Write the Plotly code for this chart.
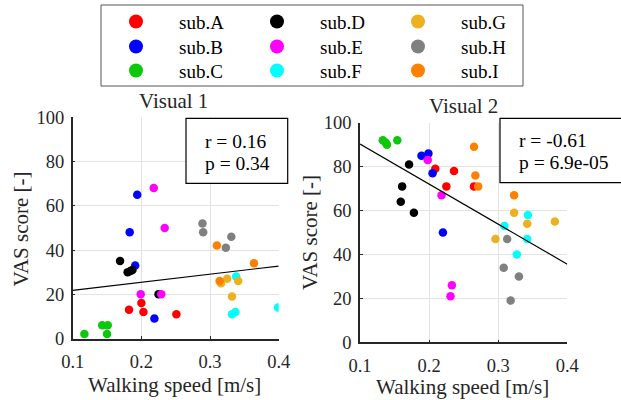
import numpy as np
import plotly.graph_objects as go

W, H = 621, 400

subjects = ["sub.A", "sub.B", "sub.C", "sub.D", "sub.E", "sub.F", "sub.G", "sub.H", "sub.I"]
colors = ["#ff0000", "#0000ff", "#0bc80b", "#000000", "#ff00ff", "#00ffff", "#edb120", "#808080", "#ff8000"]

# Visual 1: walking speed [m/s] and VAS score per subject
speed_v1 = [
    [0.182, 0.200, 0.203, 0.251],
    [0.194, 0.183, 0.191, 0.219],
    [0.117, 0.143, 0.151, 0.150],
    [0.169, 0.180, 0.184, 0.187, 0.225],
    [0.218, 0.234, 0.199, 0.229],
    [0.338, 0.399, 0.332, 0.337],
    [0.316, 0.325, 0.341, 0.332],
    [0.289, 0.290, 0.323, 0.331],
    [0.310, 0.364, 0.314],
]
vas_v1 = [
    [13, 16, 12, 11],
    [65, 48, 33, 9],
    [2, 6, 6, 2],
    [35, 30, 30.5, 31, 20],
    [68, 50, 20, 20],
    [28, 14, 11, 12],
    [25, 27, 26, 19],
    [52, 48, 41, 46],
    [42, 34, 26],
]

# Visual 2
speed_v2 = [
    [0.209, 0.236, 0.225, 0.265],
    [0.189, 0.199, 0.205, 0.220],
    [0.133, 0.137, 0.139, 0.154],
    [0.171, 0.161, 0.159, 0.178],
    [0.198, 0.218, 0.233, 0.231],
    [0.309, 0.343, 0.342, 0.327],
    [0.323, 0.342, 0.382, 0.296],
    [0.313, 0.308, 0.330, 0.318],
    [0.265, 0.267, 0.271, 0.323],
]
vas_v2 = [
    [79, 78, 71, 71],
    [85, 86, 77, 50],
    [92, 91, 90, 92],
    [81, 71, 64, 59],
    [83, 67, 26, 21],
    [53, 58, 47, 40],
    [59, 54, 55, 47],
    [47, 34, 30, 19],
    [89, 76, 71, 67],
]

panel_titles = ["Visual 1", "Visual 2"]
stats_r = ["r = 0.16", "r = -0.61"]
stats_p = ["p = 0.34", "p = 6.9e-05"]
x_ticks = [0.1, 0.2, 0.3, 0.4]
y_ticks = [0, 20, 40, 60, 80, 100]
x_range = [0.1, 0.4]
y_range = [0, 100]

FONT = "Liberation Serif, 'Times New Roman', Times, serif"
TXT = "#262626"

def px(x):
    return x / W

def py(y):
    return 1 - y / H

fig = go.Figure()

panels = [(speed_v1, vas_v1, "x", "y"), (speed_v2, vas_v2, "x2", "y2")]
for sp, vs, xa, ya in panels:
    for i, name in enumerate(subjects):
        fig.add_trace(go.Scatter(
            x=sp[i], y=vs[i], mode="markers", xaxis=xa, yaxis=ya,
            marker=dict(color=colors[i], size=8.5, line=dict(width=0)),
            showlegend=False, name=name, hoverinfo="skip",
        ))
    allx = np.concatenate([np.asarray(a, float) for a in sp])
    ally = np.concatenate([np.asarray(a, float) for a in vs])
    k, b = np.polyfit(allx, ally, 1)
    fx = np.array(x_range)
    fig.add_trace(go.Scatter(
        x=fx, y=k * fx + b, mode="lines", xaxis=xa, yaxis=ya,
        line=dict(color="black", width=1.2), showlegend=False, hoverinfo="skip",
    ))

# legend: 3 columns x 3 rows, one small legend per entry
col_sym_x = [144, 285, 426]
row_y = [21.7, 46.7, 70.7]
leg_common = dict(
    orientation="v", xanchor="left", yanchor="middle", itemwidth=76,
    font=dict(family=FONT, size=19, color="black"),
    bgcolor="rgba(0,0,0,0)", borderwidth=0, tracegroupgap=0, itemclick=False, itemdoubleclick=False,
)
legend_layout = {}
for i, name in enumerate(subjects):
    lname = "legend" if i == 0 else f"legend{i + 1}"
    col, row = i // 3, i % 3
    legend_layout[lname] = dict(x=px(col_sym_x[col] - 51), y=py(row_y[row]), **leg_common)
    fig.add_trace(go.Scatter(
        x=[None], y=[None], mode="markers", name=name,
        marker=dict(color=colors[i], size=14, line=dict(width=0)),
        legend=lname, showlegend=True,
    ))

axis_common = dict(
    showline=True, linecolor=TXT, linewidth=1.5, mirror=False, automargin=False,
    ticks="inside", ticklen=3, tickwidth=1, tickcolor=TXT,
    showgrid=True, gridcolor="#e3e3e3", gridwidth=1, zeroline=False,
    tickfont=dict(family=FONT, size=18.5, color=TXT),
)

fig.update_layout(
    template="none",
    width=W, height=H, margin=dict(l=0, r=0, t=0, b=0, pad=0, autoexpand=False),
    paper_bgcolor="white", plot_bgcolor="white",
    font=dict(family=FONT),
    xaxis=dict(domain=[px(72.7), px(278.7)], range=x_range, tickvals=x_ticks,
               ticktext=[f"{v:.1f}" for v in x_ticks], anchor="y", ticklabelstandoff=6, **axis_common),
    yaxis=dict(domain=[py(338.5), py(117.3)], range=y_range, tickvals=y_ticks, anchor="x",
               ticklabelstandoff=3, **axis_common),
    xaxis2=dict(domain=[px(360), px(567.3)], range=x_range, tickvals=x_ticks,
                ticktext=[f"{v:.1f}" for v in x_ticks], anchor="y2", ticklabelstandoff=6, **axis_common),
    yaxis2=dict(domain=[py(342.3), py(122.7)], range=y_range, tickvals=y_ticks, anchor="x2",
                ticklabelstandoff=3, **axis_common),
    showlegend=True,
    **legend_layout,
)

shapes = [
    dict(type="rect", xref="paper", yref="paper", x0=px(101), x1=px(523), y0=py(86), y1=py(5),
         line=dict(color="#555555", width=1), fillcolor="rgba(0,0,0,0)", layer="above"),
    dict(type="rect", xref="paper", yref="paper", x0=px(186), x1=px(287.7), y0=py(183.3), y1=py(118.3),
         line=dict(color="black", width=1.2), fillcolor="white", layer="above"),
    dict(type="rect", xref="paper", yref="paper", x0=px(500), x1=px(630), y0=py(182.7), y1=py(118.3),
         line=dict(color="black", width=1.2), fillcolor="white", layer="above"),
]
fig.update_layout(shapes=shapes)

ann = []
def add_text(text, x, y, size, xanchor="center", angle=0, color=TXT):
    ann.append(dict(text=text, x=px(x), y=py(y), xref="paper", yref="paper", showarrow=False,
                    xanchor=xanchor, yanchor="middle", textangle=angle,
                    font=dict(family=FONT, size=size, color=color)))

add_text(panel_titles[0], 173, 101, 21)
add_text(panel_titles[1], 463, 106, 21)
add_text("Walking speed [m/s]", 175, 385, 21)
add_text("Walking speed [m/s]", 462.5, 387, 21)
add_text("VAS score [-]", 20, 229.5, 21, angle=-90)
add_text("VAS score [-]", 310, 233, 21, angle=-90)
add_text(stats_r[0], 203.3, 141.7, 19.5, xanchor="left", color="black")
add_text(stats_p[0], 203.3, 163.3, 19.5, xanchor="left", color="black")
add_text(stats_r[1], 516.7, 140.7, 19.5, xanchor="left", color="black")
add_text(stats_p[1], 516.7, 162.3, 19.5, xanchor="left", color="black")
fig.update_layout(annotations=ann)

fig.write_html("out.html")
